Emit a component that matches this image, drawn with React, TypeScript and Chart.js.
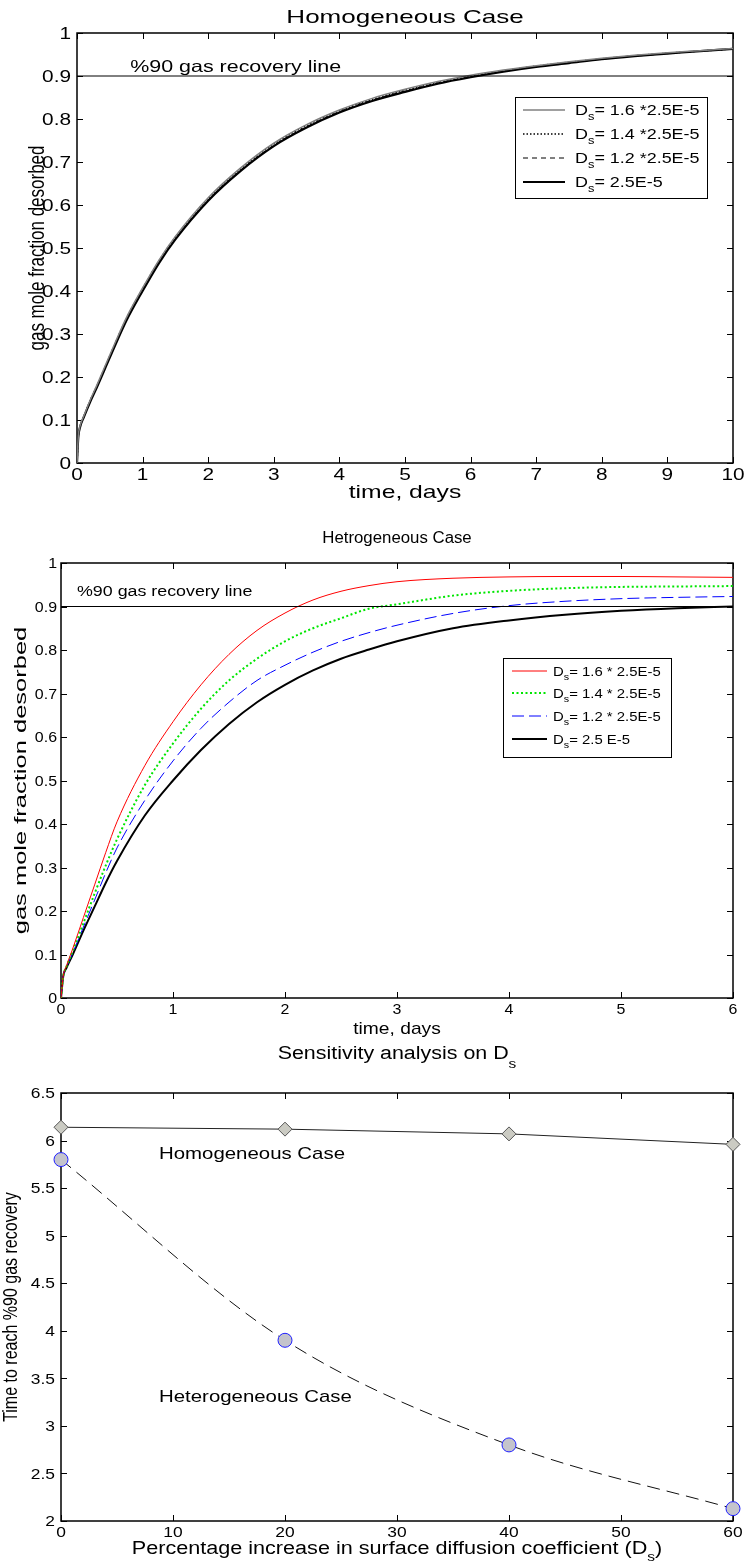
import React, { useEffect, useRef } from "react";
import { Chart, registerables } from "chart.js";
Chart.register(...registerables);

const FONT = '"Liberation Sans", Arial, Helvetica, sans-serif';
const font = (s: number) => `${s}px ${FONT}`;

// ---------- Panel 1: Homogeneous case ----------
const homoTime = [0, 0.02, 0.05, 0.1, 0.2, 0.3, 0.5, 0.75, 1, 1.25, 1.5, 2, 2.5, 3, 3.5, 4, 4.5, 5, 5.5, 6, 6.5, 7, 7.5, 8, 8.5, 9, 9.5, 10];
const homoDs16 = [0, 0.062, 0.088, 0.108, 0.146, 0.18, 0.251, 0.337, 0.407, 0.472, 0.527, 0.617, 0.687, 0.744, 0.787, 0.821, 0.848, 0.869, 0.887, 0.902, 0.914, 0.924, 0.933, 0.941, 0.948, 0.954, 0.959, 0.964];
const homoDs14 = [0, 0.061, 0.087, 0.107, 0.145, 0.178, 0.249, 0.335, 0.405, 0.47, 0.525, 0.615, 0.685, 0.742, 0.785, 0.819, 0.846, 0.867, 0.885, 0.899, 0.912, 0.923, 0.932, 0.94, 0.947, 0.953, 0.958, 0.963];
const homoDs12 = [0, 0.06, 0.086, 0.106, 0.143, 0.176, 0.247, 0.332, 0.402, 0.467, 0.522, 0.612, 0.682, 0.739, 0.782, 0.817, 0.844, 0.865, 0.884, 0.898, 0.911, 0.922, 0.931, 0.94, 0.946, 0.952, 0.958, 0.963];
const homoDsBase = [0, 0.06, 0.085, 0.105, 0.142, 0.175, 0.245, 0.33, 0.4, 0.465, 0.52, 0.61, 0.68, 0.737, 0.78, 0.815, 0.842, 0.863, 0.882, 0.897, 0.91, 0.921, 0.93, 0.939, 0.946, 0.952, 0.958, 0.963];
const homoLegend = ["= 1.6 *2.5E-5", "= 1.4 *2.5E-5", "= 1.2 *2.5E-5", "= 2.5E-5"];

// ---------- Panel 2: Heterogeneous case ----------
const hetTime = [0, 0.02, 0.05, 0.1, 0.2, 0.3, 0.4, 0.5, 0.75, 1, 1.25, 1.5, 1.75, 2, 2.25, 2.5, 2.75, 3, 3.5, 4, 4.5, 5, 5.5, 6];
const hetDs16 = [0, 0.05, 0.075, 0.11, 0.185, 0.26, 0.335, 0.405, 0.535, 0.635, 0.72, 0.79, 0.845, 0.885, 0.915, 0.935, 0.948, 0.957, 0.965, 0.968, 0.969, 0.969, 0.968, 0.967];
const hetDs14 = [0, 0.05, 0.073, 0.105, 0.172, 0.24, 0.305, 0.365, 0.49, 0.585, 0.665, 0.73, 0.78, 0.82, 0.85, 0.873, 0.895, 0.905, 0.925, 0.936, 0.942, 0.945, 0.946, 0.947];
const hetDs12 = [0, 0.05, 0.072, 0.1, 0.163, 0.225, 0.288, 0.345, 0.455, 0.545, 0.62, 0.68, 0.73, 0.765, 0.795, 0.82, 0.84, 0.857, 0.884, 0.902, 0.912, 0.918, 0.921, 0.923];
const hetDsBase = [0, 0.05, 0.07, 0.097, 0.155, 0.21, 0.265, 0.315, 0.42, 0.5, 0.57, 0.63, 0.68, 0.72, 0.753, 0.78, 0.801, 0.82, 0.85, 0.868, 0.881, 0.89, 0.896, 0.9];
const hetLegend = ["= 1.6 * 2.5E-5", "= 1.4 * 2.5E-5", "= 1.2 * 2.5E-5", "= 2.5 E-5"];

// ---------- Panel 3: Sensitivity ----------
const pctIncrease = [0, 20, 40, 60];
const homoT90 = [6.14, 6.12, 6.07, 5.96];
const hetT90 = [5.8, 3.9, 2.8, 2.13];

const recoveryLevel = 0.9;

type Seg = { t: string; sub?: boolean };
type TextOpts = { along?: number; across?: number; align?: "left" | "center" | "right"; rot?: boolean; subDrop?: number };

function drawRich(ctx: CanvasRenderingContext2D, segs: Seg[], x: number, y: number, size: number, o: TextOpts = {}) {
  const along = o.along ?? 1, across = o.across ?? 1, align = o.align ?? "left";
  ctx.save();
  ctx.translate(x, y);
  if (o.rot) ctx.rotate(-Math.PI / 2);
  ctx.scale(along, across);
  ctx.textAlign = "left";
  ctx.textBaseline = "alphabetic";
  ctx.fillStyle = "#000";
  let w = 0;
  for (const s of segs) {
    ctx.font = font(s.sub ? size * 0.72 : size);
    w += ctx.measureText(s.t).width;
  }
  let cx = align === "left" ? 0 : align === "center" ? -w / 2 : -w;
  const base = size * 0.36;
  for (const s of segs) {
    const fs = s.sub ? size * 0.72 : size;
    ctx.font = font(fs);
    ctx.fillText(s.t, cx, base + (s.sub ? size * (o.subDrop ?? 0.35) : 0));
    cx += ctx.measureText(s.t).width;
  }
  ctx.restore();
}

const fmt = (v: number) => String(Math.round(v * 100) / 100);
const pts = (xs: number[], ys: number[]) => xs.map((x, i) => ({ x, y: ys[i] }));
const dsLabel = (rest: string): Seg[] => [{ t: "D" }, { t: "s", sub: true }, { t: rest }];

function decorPlugin(p: any) {
  return {
    id: "decor",
    beforeDatasetsDraw(chart: any) {
      const ctx: CanvasRenderingContext2D = chart.ctx;
      const a = chart.chartArea;
      const xs = chart.scales.x, ys = chart.scales.y;
      const off = p.top;
      ctx.save();
      ctx.strokeStyle = "#000";
      ctx.lineWidth = p.axisWidth;
      ctx.strokeRect(a.left, a.top, a.right - a.left, a.bottom - a.top);
      ctx.lineWidth = 1;
      ctx.beginPath();
      xs.ticks.forEach((t: any) => {
        const x = Math.round(xs.getPixelForValue(t.value)) + 0.5;
        ctx.moveTo(x, a.bottom); ctx.lineTo(x, a.bottom - p.tickLen);
        ctx.moveTo(x, a.top); ctx.lineTo(x, a.top + p.tickLen);
      });
      ys.ticks.forEach((t: any) => {
        const y = Math.round(ys.getPixelForValue(t.value)) + 0.5;
        ctx.moveTo(a.left, y); ctx.lineTo(a.left + p.tickLen, y);
        ctx.moveTo(a.right, y); ctx.lineTo(a.right - p.tickLen, y);
      });
      ctx.stroke();
      ctx.restore();
      xs.ticks.forEach((t: any) => {
        drawRich(ctx, [{ t: fmt(t.value) }], xs.getPixelForValue(t.value), a.bottom + p.xTickDy, p.tickSize, { along: p.tickAlong, align: "center" });
      });
      ys.ticks.forEach((t: any) => {
        drawRich(ctx, [{ t: fmt(t.value) }], a.left - p.yTickGap, ys.getPixelForValue(t.value), p.tickSize, { along: p.tickAlong, align: "right" });
      });
      const cxm = (a.left + a.right) / 2;
      drawRich(ctx, p.title, cxm, p.titleY - off, p.titleSize, { along: p.titleAlong, align: "center", subDrop: p.titleSubDrop });
      drawRich(ctx, p.xlabel, cxm, p.xlabelY - off, p.xlabelSize, { along: p.xlabelAlong, align: "center" });
      drawRich(ctx, p.ylabel, p.ylabelX, (a.top + a.bottom) / 2, p.ylabelSize, { rot: true, along: p.ylabelAlong, across: p.ylabelAcross, align: "center" });
    },
    afterDatasetsDraw(chart: any) {
      const ctx: CanvasRenderingContext2D = chart.ctx;
      const xs = chart.scales.x, ys = chart.scales.y;
      const off = p.top;
      (p.notes || []).forEach((n: any) => {
        drawRich(ctx, n.segs, xs.getPixelForValue(n.x), ys.getPixelForValue(n.y), n.size, { along: n.along, align: "left" });
      });
      const L = p.legend;
      if (L) {
        ctx.save();
        ctx.fillStyle = "#fff";
        ctx.fillRect(L.l, L.t - off, L.r - L.l, L.b - L.t);
        ctx.strokeStyle = "#000";
        ctx.lineWidth = 1;
        ctx.strokeRect(L.l + 0.5, L.t - off + 0.5, L.r - L.l, L.b - L.t);
        ctx.restore();
        L.items.forEach((it: any, i: number) => {
          const ds = chart.data.datasets[it.ds];
          const y = L.rows[i] - off;
          ctx.save();
          ctx.strokeStyle = ds.borderColor;
          ctx.lineWidth = ds.borderWidth;
          ctx.setLineDash(ds.borderDash || []);
          ctx.beginPath();
          ctx.moveTo(L.x0, y);
          ctx.lineTo(L.x1, y);
          ctx.stroke();
          ctx.restore();
          drawRich(ctx, it.label, L.textX, y, L.size, { along: L.along, align: "left" });
        });
      }
    },
  };
}

function makeConfig(p: any, datasets: any[]) {
  return {
    type: "line",
    data: { datasets },
    options: {
      animation: false,
      responsive: false,
      devicePixelRatio: 1,
      layout: { padding: { left: 0, right: 745 - p.right, top: p.plotTop - p.top, bottom: 0 } },
      plugins: { legend: { display: false }, title: { display: false }, tooltip: { enabled: false } },
      elements: { point: { radius: 0 } },
      scales: {
        x: {
          type: "linear", min: p.xMin, max: p.xMax,
          ticks: { stepSize: p.xStep, display: false },
          grid: { display: false, drawTicks: false },
          border: { display: false },
          afterFit: (s: any) => { s.height = p.top + p.height - p.plotBottom; },
        },
        y: {
          type: "linear", min: p.yMin, max: p.yMax,
          ticks: { stepSize: p.yStep, display: false },
          grid: { display: false, drawTicks: false },
          border: { display: false },
          afterFit: (s: any) => { s.width = p.left; },
        },
      },
    },
    plugins: [decorPlugin(p)],
  };
}

const P1 = {
  top: 0, height: 515, left: 77, right: 733, plotTop: 33, plotBottom: 463,
  xMin: 0, xMax: 10, xStep: 1, yMin: 0, yMax: 1, yStep: 0.1,
  axisWidth: 1.5, tickLen: 6,
  tickSize: 16, tickAlong: 1.3, xTickDy: 11, yTickGap: 6,
  title: [{ t: "Homogeneous Case" }], titleSize: 19, titleAlong: 1.37, titleY: 16,
  xlabel: [{ t: "time, days" }], xlabelSize: 19, xlabelAlong: 1.3, xlabelY: 491,
  ylabel: [{ t: "gas mole fraction desorbed" }], ylabelSize: 17, ylabelX: 36, ylabelAlong: 1, ylabelAcross: 1.35,
  notes: [{ segs: [{ t: "%90 gas recovery line" }], x: 0.81, y: 0.922, size: 16.5, along: 1.3 }],
  legend: {
    l: 515, r: 707, t: 97, b: 198, rows: [110, 134, 158, 182], x0: 523, x1: 565, textX: 575, size: 14, along: 1.28,
    items: homoLegend.map((s, i) => ({ ds: i + 1, label: dsLabel(s) })),
  },
};

const P2 = {
  top: 510, height: 535, left: 61, right: 733, plotTop: 563, plotBottom: 998,
  xMin: 0, xMax: 6, xStep: 1, yMin: 0, yMax: 1, yStep: 0.1,
  axisWidth: 1.5, tickLen: 6,
  tickSize: 14.5, tickAlong: 1.1, xTickDy: 11, yTickGap: 4,
  title: [{ t: "Hetrogeneous Case" }], titleSize: 16, titleAlong: 1.05, titleY: 537,
  xlabel: [{ t: "time, days" }], xlabelSize: 17, xlabelAlong: 1.13, xlabelY: 1028,
  ylabel: [{ t: "gas mole fraction desorbed" }], ylabelSize: 15, ylabelX: 20, ylabelAlong: 1.7, ylabelAcross: 1.1,
  notes: [{ segs: [{ t: "%90 gas recovery line" }], x: 0.143, y: 0.936, size: 15.5, along: 1.15 }],
  legend: {
    l: 503, r: 671, t: 658, b: 757, rows: [671, 693, 716, 739], x0: 512, x1: 547, textX: 553, size: 13.2, along: 1.13,
    items: hetLegend.map((s, i) => ({ ds: i + 1, label: dsLabel(s) })),
  },
};

const P3 = {
  top: 1040, height: 524, left: 61, right: 733, plotTop: 1093, plotBottom: 1521,
  xMin: 0, xMax: 60, xStep: 10, yMin: 2, yMax: 6.5, yStep: 0.5,
  axisWidth: 1.5, tickLen: 6,
  tickSize: 14.5, tickAlong: 1.2, xTickDy: 11, yTickGap: 6,
  title: [{ t: "Sensitivity analysis on D" }, { t: "s", sub: true }], titleSize: 18, titleAlong: 1.19, titleY: 1053, titleSubDrop: 0.45,
  xlabel: [{ t: "Percentage increase in surface diffusion coefficient (D" }, { t: "s", sub: true }, { t: ")" }], xlabelSize: 18, xlabelAlong: 1.2, xlabelY: 1548,
  ylabel: [{ t: "Time to reach %90 gas recovery" }], ylabelSize: 16, ylabelX: 10, ylabelAlong: 1, ylabelAcross: 1.25,
  notes: [
    { segs: [{ t: "Homogeneous Case" }], x: 8.75, y: 5.87, size: 17, along: 1.2 },
    { segs: [{ t: "Heterogeneous Case" }], x: 8.75, y: 3.32, size: 17, along: 1.2 },
  ],
};

const refLine = (xMax: number) => ({
  data: [{ x: 0, y: recoveryLevel }, { x: xMax, y: recoveryLevel }],
  borderColor: "#000", borderWidth: 1, pointRadius: 0,
});

const cfg1 = () => makeConfig(P1, [
  refLine(10),
  { data: pts(homoTime, homoDs16), borderColor: "#808080", borderWidth: 1.5, cubicInterpolationMode: "monotone" },
  { data: pts(homoTime, homoDs14), borderColor: "#000", borderWidth: 1.5, borderDash: [1.5, 2], cubicInterpolationMode: "monotone" },
  { data: pts(homoTime, homoDs12), borderColor: "#000", borderWidth: 1, borderDash: [5, 4], cubicInterpolationMode: "monotone" },
  { data: pts(homoTime, homoDsBase), borderColor: "#000", borderWidth: 2.2, cubicInterpolationMode: "monotone" },
]);

const cfg2 = () => makeConfig(P2, [
  refLine(6),
  { data: pts(hetTime, hetDs16), borderColor: "#ff0000", borderWidth: 1, cubicInterpolationMode: "monotone" },
  { data: pts(hetTime, hetDs14), borderColor: "#00e600", borderWidth: 2, borderDash: [2, 2.5], cubicInterpolationMode: "monotone" },
  { data: pts(hetTime, hetDs12), borderColor: "#0000ff", borderWidth: 1, borderDash: [12, 5], cubicInterpolationMode: "monotone" },
  { data: pts(hetTime, hetDsBase), borderColor: "#000", borderWidth: 2, cubicInterpolationMode: "monotone" },
]);

const cfg3 = () => makeConfig(P3, [
  {
    data: pts(pctIncrease, homoT90), borderColor: "#222", borderWidth: 1, clip: false,
    pointStyle: "rectRot", pointRadius: 7, pointBackgroundColor: "#cbcbc3", pointBorderColor: "#555", pointBorderWidth: 1,
  },
  {
    data: pts(pctIncrease, hetT90), borderColor: "#111", borderWidth: 1, borderDash: [13, 7], clip: false,
    cubicInterpolationMode: "monotone",
    pointStyle: "circle", pointRadius: 7, pointBackgroundColor: "#c4c4cc", pointBorderColor: "#2020ff", pointBorderWidth: 1,
  },
]);

function Panel({ spec, build }: { spec: any; build: () => any }) {
  const ref = useRef<HTMLCanvasElement>(null);
  useEffect(() => {
    const chart = new Chart(ref.current as HTMLCanvasElement, build() as any);
    return () => chart.destroy();
  }, []);
  return (
    <canvas
      ref={ref}
      width={745}
      height={spec.height}
      style={{ position: "absolute", left: 0, top: spec.top, width: 745, height: spec.height, display: "block" }}
    />
  );
}

export default function App() {
  return (
    <div style={{ position: "absolute", left: 0, top: 0, width: 745, height: 1564, background: "#fff", overflow: "hidden" }}>
      <Panel spec={P1} build={cfg1} />
      <Panel spec={P2} build={cfg2} />
      <Panel spec={P3} build={cfg3} />
    </div>
  );
}
